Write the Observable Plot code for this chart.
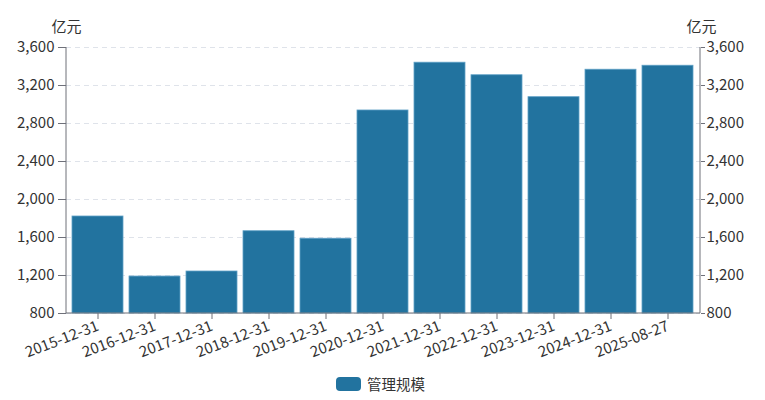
<!DOCTYPE html>
<html>
<head>
<meta charset="utf-8">
<script src="https://cdn.jsdelivr.net/npm/d3@7"></script>
<script src="https://cdn.jsdelivr.net/npm/@observablehq/plot@0.6"></script>
<style>
  body { margin: 0; background: #fff; font-family: "Noto Sans CJK SC", "Noto Sans", sans-serif; }
  #chart svg { display: block; }
  .legend { display: flex; justify-content: center; align-items: center; height: 35px; font-size: 14.5px; color: #333; padding-right: 4px; padding-top: 2px; box-sizing: border-box; }
  .sw { width: 25px; height: 14px; border-radius: 4px; background: #22739f; margin-right: 6px; }
</style>
</head>
<body>
<div id="chart"></div>
<div class="legend"><span class="sw"></span><span id="legend-label"></span></div>
<script>
const dates = ["2015-12-31","2016-12-31","2017-12-31","2018-12-31","2019-12-31","2020-12-31","2021-12-31","2022-12-31","2023-12-31","2024-12-31","2025-08-27"];
const scale = [1821, 1189, 1242, 1666, 1587, 2937, 3440, 3308, 3077, 3366, 3408];
const yTicks = [800, 1200, 1600, 2000, 2400, 2800, 3200, 3600];
const unitLabel = "亿元";
const seriesName = "管理规模";

document.getElementById("legend-label").textContent = seriesName;

const data = dates.map((d, i) => ({date: d, value: scale[i]}));
const barColor = "#22739f";
const axisColor = "#6e7079";

const axisLines = (index, scales, values, dim) => {
  const g = document.createElementNS("http://www.w3.org/2000/svg", "g");
  const L = dim.marginLeft, R = dim.width - dim.marginRight, T = dim.marginTop, B = dim.height - dim.marginBottom;
  const lines = [[L, T, L, B], [R, T, R, B], [L, B, R, B]];
  for (const [x1, y1, x2, y2] of lines) {
    const l = document.createElementNS("http://www.w3.org/2000/svg", "line");
    l.setAttribute("x1", x1); l.setAttribute("y1", y1);
    l.setAttribute("x2", x2); l.setAttribute("y2", y2);
    l.setAttribute("stroke", axisColor); l.setAttribute("stroke-width", 1);
    g.appendChild(l);
  }
  return g;
};

const chart = Plot.plot({
  width: 765,
  height: 365,
  marginTop: 47,
  marginBottom: 52,
  marginLeft: 66,
  marginRight: 65,
  style: {fontFamily: "'Noto Sans CJK SC', 'Noto Sans', sans-serif", fontSize: "15px", color: "#333"},
  x: {domain: dates, padding: 0.1, range: [63, 703]},
  y: {domain: [800, 3600]},
  marks: [
    Plot.gridY(yTicks, {stroke: "#dfe3ea", strokeOpacity: 1, strokeDasharray: "5,4"}),
    Plot.barY(data, {x: "date", y1: 800, y2: "value", fill: barColor, stroke: "#5fa0c6", strokeWidth: 0.8}),
    Plot.axisX({tickRotate: -21, tickSize: 6, tickPadding: 6, stroke: axisColor, fill: "#333", label: null, fontSize: 15}),
    Plot.axisY(yTicks, {anchor: "left", tickSize: 8, tickPadding: 4, tickFormat: d3.format(","), stroke: axisColor, fill: "#333", label: null, fontSize: 15}),
    Plot.axisY(yTicks, {anchor: "right", tickSize: 4, tickPadding: 2, tickFormat: d3.format(","), stroke: axisColor, fill: "#333", label: null, fontSize: 15}),
    axisLines,
    Plot.text([unitLabel], {frameAnchor: "top-left", textAnchor: "middle", lineAnchor: "middle", dy: -20, fill: "#333", fontSize: 15}),
    Plot.text([unitLabel], {frameAnchor: "top-right", textAnchor: "middle", lineAnchor: "middle", dx: 1, dy: -20, fill: "#333", fontSize: 15})
  ]
});
document.getElementById("chart").appendChild(chart);
</script>
</body>
</html>
